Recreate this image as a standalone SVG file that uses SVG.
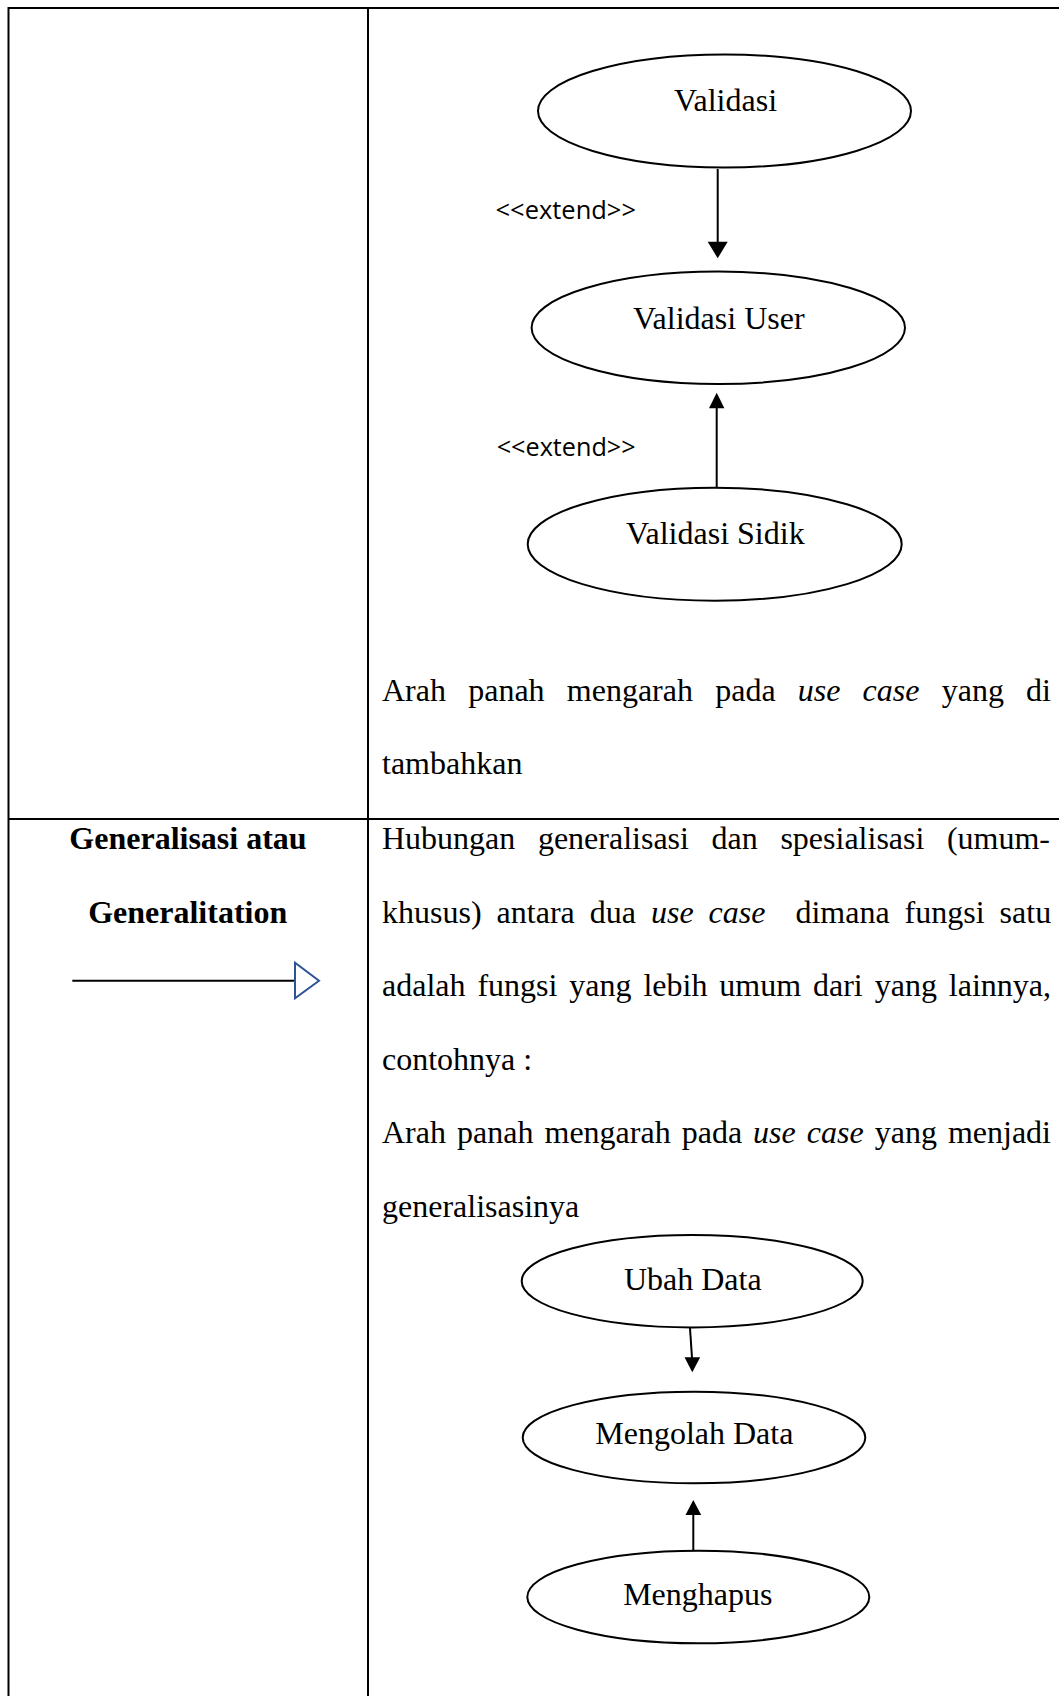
<svg xmlns="http://www.w3.org/2000/svg" width="1059" height="1696" viewBox="0 0 1059 1696">
<style>
.grid{stroke:#000;stroke-width:2;fill:none}
.uc{fill:#fff;stroke:#000;stroke-width:2}
.lbl{font-family:"Liberation Serif","Times New Roman",serif;font-size:32px;fill:#000;text-anchor:middle}
.body{font-family:"Liberation Serif","Times New Roman",serif;font-size:32px;fill:#000}
.it{font-style:italic}
.bold{font-family:"Liberation Serif","Times New Roman",serif;font-size:32px;font-weight:bold;fill:#000;text-anchor:middle}
.ext{font-family:"Open Sans","Noto Sans",sans-serif;font-size:26px;fill:#000}
.conn{stroke:#000;stroke-width:2;fill:none}
.head{fill:#000;stroke:none}
</style>
<rect x="0" y="0" width="1059" height="1696" fill="#fff"/>
<g id="table">
<line class="grid" x1="8.5" y1="8" x2="1059" y2="8"/>
<line class="grid" x1="8.5" y1="7" x2="8.5" y2="1696"/>
<line class="grid" x1="368" y1="7" x2="368" y2="1696"/>
<line class="grid" x1="8.5" y1="819" x2="1059" y2="819"/>
</g>
<g id="connectors">
<line class="conn" x1="717.7" y1="169" x2="717.7" y2="243"/>
<polygon class="head" points="707.7,241.7 727.7,241.7 717.7,258.3"/>
<line class="conn" x1="716.7" y1="487.7" x2="716.7" y2="407"/>
<polygon class="head" points="709,408.3 724.4,408.3 716.7,392.7"/>
<line class="conn" x1="690" y1="1328" x2="692" y2="1358"/>
<polygon class="head" points="684.5,1357.3 700.2,1357.3 692.3,1372.3"/>
<line class="conn" x1="693.3" y1="1550.7" x2="693.3" y2="1514"/>
<polygon class="head" points="685.5,1515 701.2,1515 693.3,1500"/>
<text class="ext" x="495.5" y="219" textLength="140.5" lengthAdjust="spacingAndGlyphs">&lt;&lt;extend&gt;&gt;</text>
<text class="ext" x="496.7" y="456" textLength="139" lengthAdjust="spacingAndGlyphs">&lt;&lt;extend&gt;&gt;</text>
</g>
<g id="validasi">
<ellipse class="uc" cx="724.5" cy="111" rx="186.5" ry="56.5"/>
<text class="lbl" x="725.5" y="111">Validasi</text>
</g>
<g id="validasi-user">
<ellipse class="uc" cx="718.3" cy="327.8" rx="186.7" ry="56.2"/>
<text class="lbl" x="718.8" y="328.5">Validasi User</text>
</g>
<g id="validasi-sidik">
<ellipse class="uc" cx="714.7" cy="544.2" rx="187" ry="56.5"/>
<text class="lbl" x="715.3" y="543.5">Validasi Sidik</text>
</g>
<g id="desc-extend">
<text class="body" y="701"><tspan x="382">Arah</tspan><tspan x="468.2">panah</tspan><tspan x="566.8">mengarah</tspan><tspan x="715.2">pada</tspan><tspan class="it" x="797.8">use</tspan><tspan class="it" x="862.6">case</tspan><tspan x="941.7">yang</tspan><tspan x="1026.1">di</tspan></text>
<text class="body" x="382" y="774">tambahkan</text>
</g>
<g id="generalisasi-label">
<text class="bold" x="188" y="849">Generalisasi atau</text>
<text class="bold" x="187.7" y="922.5">Generalitation</text>
<line x1="72.3" y1="980.7" x2="295" y2="980.7" stroke="#000" stroke-width="2"/>
<polygon points="295,962.7 295,998.3 319,980.7" fill="#fff" stroke="#2F5496" stroke-width="2"/>
</g>
<g id="desc-generalisasi">
<text class="body" y="849"><tspan x="382">Hubungan</tspan><tspan x="537.9">generalisasi</tspan><tspan x="711.6">dan</tspan><tspan x="780.4">spesialisasi</tspan><tspan x="946.9">(umum-</tspan></text>
<text class="body" y="922.5"><tspan x="382">khusus)</tspan><tspan x="496.6">antara</tspan><tspan x="589.8">dua</tspan><tspan class="it" x="651">use</tspan><tspan class="it" x="708.6">case</tspan><tspan x="795.4">dimana</tspan><tspan x="904.6">fungsi</tspan><tspan x="999.6">satu</tspan></text>
<text class="body" y="996"><tspan x="382">adalah</tspan><tspan x="477.4">fungsi</tspan><tspan x="569.3">yang</tspan><tspan x="643.4">lebih</tspan><tspan x="719.3">umum</tspan><tspan x="813">dari</tspan><tspan x="874.7">yang</tspan><tspan x="948.8">lainnya,</tspan></text>
<text class="body" x="382" y="1069.5">contohnya :</text>
<text class="body" y="1143"><tspan x="382">Arah</tspan><tspan x="457">panah</tspan><tspan x="544.5">mengarah</tspan><tspan x="681.7">pada</tspan><tspan class="it" x="753.1">use</tspan><tspan class="it" x="806.8">case</tspan><tspan x="874.7">yang</tspan><tspan x="947.9">menjadi</tspan></text>
<text class="body" x="382" y="1216.5">generalisasinya</text>
</g>
<g id="ubah-data">
<ellipse class="uc" cx="692.2" cy="1281.2" rx="170.5" ry="46.2"/>
<text class="lbl" x="692.8" y="1289.5">Ubah Data</text>
</g>
<g id="mengolah-data">
<ellipse class="uc" cx="694" cy="1437.5" rx="171.3" ry="45.8"/>
<text class="lbl" x="694.3" y="1444">Mengolah Data</text>
</g>
<g id="menghapus">
<ellipse class="uc" cx="698.3" cy="1597" rx="171" ry="46.3"/>
<text class="lbl" x="697.8" y="1605">Menghapus</text>
</g>
</svg>
